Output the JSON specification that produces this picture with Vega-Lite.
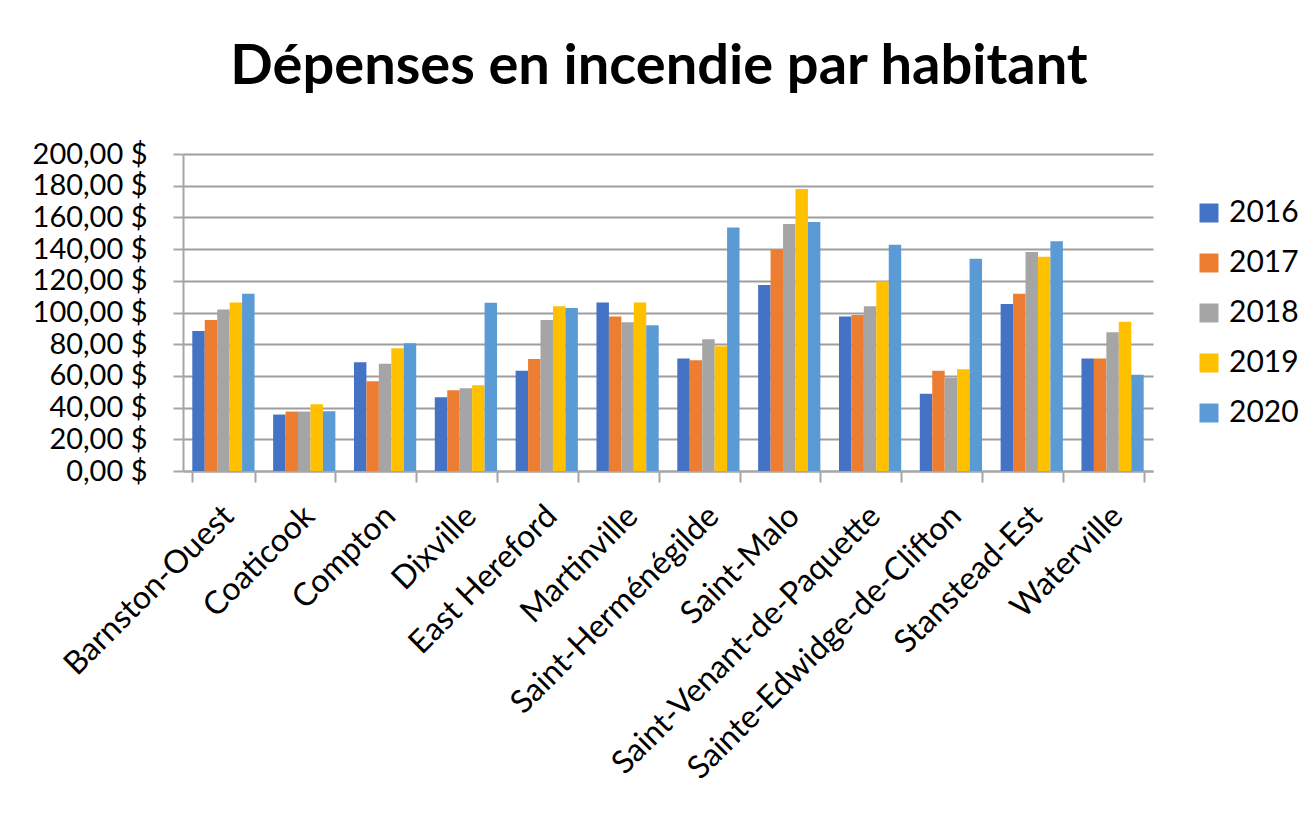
{
  "$schema": "https://vega.github.io/schema/vega-lite/v6.json",
  "width": 970,
  "height": 317,
  "autosize": {"type": "none"},
  "padding": {"left": 183, "top": 154, "right": 161, "bottom": 346},
  "background": "white",
  "title": {
    "text": "Dépenses en incendie par habitant",
    "font": "Lato",
    "fontSize": 56,
    "fontWeight": "bold",
    "color": "#000000",
    "anchor": "middle",
    "baseline": "alphabetic",
    "offset": 0,
    "dx": -9
  },
  "data": {
    "values": [
      {"municipalite": "Barnston-Ouest", "annee": "2016", "depense": 88.4},
      {"municipalite": "Barnston-Ouest", "annee": "2017", "depense": 95.2},
      {"municipalite": "Barnston-Ouest", "annee": "2018", "depense": 101.9},
      {"municipalite": "Barnston-Ouest", "annee": "2019", "depense": 106.3},
      {"municipalite": "Barnston-Ouest", "annee": "2020", "depense": 111.8},
      {"municipalite": "Coaticook", "annee": "2016", "depense": 35.6},
      {"municipalite": "Coaticook", "annee": "2017", "depense": 37.5},
      {"municipalite": "Coaticook", "annee": "2018", "depense": 37.5},
      {"municipalite": "Coaticook", "annee": "2019", "depense": 42.1},
      {"municipalite": "Coaticook", "annee": "2020", "depense": 37.7},
      {"municipalite": "Compton", "annee": "2016", "depense": 68.6},
      {"municipalite": "Compton", "annee": "2017", "depense": 56.6},
      {"municipalite": "Compton", "annee": "2018", "depense": 67.6},
      {"municipalite": "Compton", "annee": "2019", "depense": 77.5},
      {"municipalite": "Compton", "annee": "2020", "depense": 80.6},
      {"municipalite": "Dixville", "annee": "2016", "depense": 46.5},
      {"municipalite": "Dixville", "annee": "2017", "depense": 51.0},
      {"municipalite": "Dixville", "annee": "2018", "depense": 52.2},
      {"municipalite": "Dixville", "annee": "2019", "depense": 54.1},
      {"municipalite": "Dixville", "annee": "2020", "depense": 106.1},
      {"municipalite": "East Hereford", "annee": "2016", "depense": 63.2},
      {"municipalite": "East Hereford", "annee": "2017", "depense": 70.7},
      {"municipalite": "East Hereford", "annee": "2018", "depense": 95.2},
      {"municipalite": "East Hereford", "annee": "2019", "depense": 104.0},
      {"municipalite": "East Hereford", "annee": "2020", "depense": 102.9},
      {"municipalite": "Martinville", "annee": "2016", "depense": 106.3},
      {"municipalite": "Martinville", "annee": "2017", "depense": 97.5},
      {"municipalite": "Martinville", "annee": "2018", "depense": 93.9},
      {"municipalite": "Martinville", "annee": "2019", "depense": 106.3},
      {"municipalite": "Martinville", "annee": "2020", "depense": 92.0},
      {"municipalite": "Saint-Herménégilde", "annee": "2016", "depense": 70.9},
      {"municipalite": "Saint-Herménégilde", "annee": "2017", "depense": 69.9},
      {"municipalite": "Saint-Herménégilde", "annee": "2018", "depense": 83.2},
      {"municipalite": "Saint-Herménégilde", "annee": "2019", "depense": 78.7},
      {"municipalite": "Saint-Herménégilde", "annee": "2020", "depense": 153.7},
      {"municipalite": "Saint-Malo", "annee": "2016", "depense": 117.3},
      {"municipalite": "Saint-Malo", "annee": "2017", "depense": 139.6},
      {"municipalite": "Saint-Malo", "annee": "2018", "depense": 155.8},
      {"municipalite": "Saint-Malo", "annee": "2019", "depense": 177.9},
      {"municipalite": "Saint-Malo", "annee": "2020", "depense": 157.1},
      {"municipalite": "Saint-Venant-de-Paquette", "annee": "2016", "depense": 97.5},
      {"municipalite": "Saint-Venant-de-Paquette", "annee": "2017", "depense": 98.5},
      {"municipalite": "Saint-Venant-de-Paquette", "annee": "2018", "depense": 104.0},
      {"municipalite": "Saint-Venant-de-Paquette", "annee": "2019", "depense": 119.6},
      {"municipalite": "Saint-Venant-de-Paquette", "annee": "2020", "depense": 142.7},
      {"municipalite": "Sainte-Edwidge-de-Clifton", "annee": "2016", "depense": 48.8},
      {"municipalite": "Sainte-Edwidge-de-Clifton", "annee": "2017", "depense": 63.2},
      {"municipalite": "Sainte-Edwidge-de-Clifton", "annee": "2018", "depense": 58.9},
      {"municipalite": "Sainte-Edwidge-de-Clifton", "annee": "2019", "depense": 64.2},
      {"municipalite": "Sainte-Edwidge-de-Clifton", "annee": "2020", "depense": 133.9},
      {"municipalite": "Stanstead-Est", "annee": "2016", "depense": 105.3},
      {"municipalite": "Stanstead-Est", "annee": "2017", "depense": 111.8},
      {"municipalite": "Stanstead-Est", "annee": "2018", "depense": 138.1},
      {"municipalite": "Stanstead-Est", "annee": "2019", "depense": 135.2},
      {"municipalite": "Stanstead-Est", "annee": "2020", "depense": 145.0},
      {"municipalite": "Waterville", "annee": "2016", "depense": 70.9},
      {"municipalite": "Waterville", "annee": "2017", "depense": 70.9},
      {"municipalite": "Waterville", "annee": "2018", "depense": 87.6},
      {"municipalite": "Waterville", "annee": "2019", "depense": 94.1},
      {"municipalite": "Waterville", "annee": "2020", "depense": 60.8}
    ]
  },
  "mark": {"type": "bar"},
  "encoding": {
    "x": {
      "field": "municipalite",
      "type": "nominal",
      "sort": null,
      "scale": {"paddingInner": 0.23, "paddingOuter": 0.115},
      "axis": {
        "title": null,
        "labelAngle": -45,
        "labelFont": "Lato",
        "labelFontSize": 32,
        "labelColor": "#000000",
        "labelPadding": 18,
        "labelOffset": -6,
        "labelLimit": 0,
        "domainColor": "#a6a6a6",
        "domainWidth": 2,
        "tickColor": "#a6a6a6",
        "tickWidth": 2,
        "tickSize": 11,
        "tickBand": "extent",
        "grid": false
      }
    },
    "xOffset": {
      "field": "annee",
      "type": "nominal",
      "scale": {"paddingInner": 0, "paddingOuter": 0}
    },
    "y": {
      "field": "depense",
      "type": "quantitative",
      "scale": {"domain": [0, 200], "nice": false},
      "axis": {
        "title": null,
        "values": [0, 20, 40, 60, 80, 100, 120, 140, 160, 180, 200],
        "labelExpr": "replace(format(datum.value, '.2f'), '.', ',') + ' $'",
        "labelFont": "Lato",
        "labelFontSize": 29,
        "labelColor": "#000000",
        "labelPadding": 26,
        "domainColor": "#a6a6a6",
        "domainWidth": 2,
        "tickColor": "#a6a6a6",
        "tickWidth": 2,
        "tickSize": 10,
        "grid": true,
        "gridColor": "#9e9e9e",
        "gridWidth": 2
      }
    },
    "color": {
      "field": "annee",
      "type": "nominal",
      "scale": {
        "domain": ["2016", "2017", "2018", "2019", "2020"],
        "range": ["#4472c4", "#ed7d31", "#a5a5a5", "#ffc000", "#5b9bd5"]
      },
      "legend": {
        "title": null,
        "orient": "none",
        "legendX": 1011,
        "legendY": 44,
        "symbolType": "square",
        "symbolSize": 361,
        "symbolStrokeWidth": 0,
        "labelFont": "Lato",
        "labelFontSize": 30,
        "labelColor": "#000000",
        "labelOffset": 5,
        "rowPadding": 20
      }
    }
  },
  "config": {
    "view": {"stroke": null},
    "axis": {"labelOverlap": false}
  }
}
